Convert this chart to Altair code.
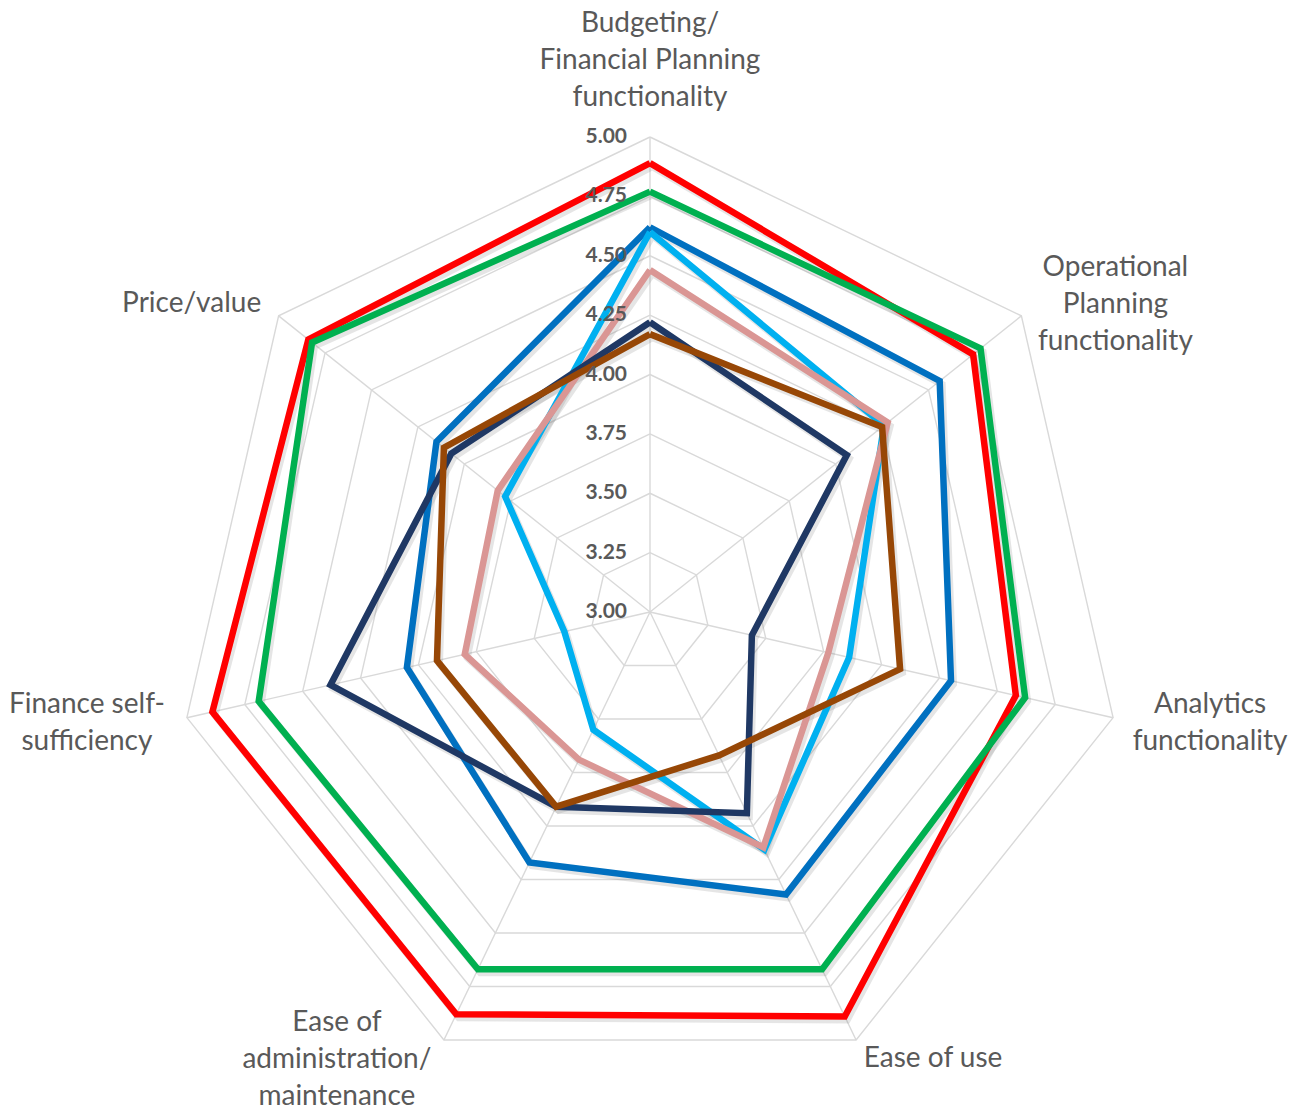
import math
import altair as alt
import pandas as pd

# ---------------- data ----------------
categories = [
    "Budgeting/\nFinancial Planning\nfunctionality",
    "Operational\nPlanning\nfunctionality",
    "Analytics\nfunctionality",
    "Ease of use",
    "Ease of\nadministration/\nmaintenance",
    "Finance self-\nsufficiency",
    "Price/value",
]

series_names = ["Series 1", "Series 2", "Series 3", "Series 4", "Series 5", "Series 6", "Series 7"]

s1_red = [4.89, 4.74, 4.58, 4.89, 4.88, 4.89, 4.84]
s2_green = [4.77, 4.78, 4.62, 4.67, 4.67, 4.69, 4.82]
s3_blue = [4.62, 4.56, 4.30, 4.32, 4.17, 4.05, 4.15]
s4_lightblue = [4.60, 4.26, 3.86, 4.11, 3.55, 3.37, 3.78]
s5_pink = [4.44, 4.28, 3.77, 4.10, 3.69, 3.80, 3.82]
s6_navy = [4.22, 4.06, 3.44, 3.94, 3.91, 4.38, 4.07]
s7_brown = [4.17, 4.25, 4.08, 3.67, 3.91, 3.92, 4.11]

series_values = [s1_red, s2_green, s3_blue, s4_lightblue, s5_pink, s6_navy, s7_brown]

tick_levels = [3.00, 3.25, 3.50, 3.75, 4.00, 4.25, 4.50, 4.75, 5.00]

# ---------------- layout / style ----------------
series_colors = ["#FF0000", "#00B050", "#0070C0", "#00B0F0", "#DA9694", "#1F3864", "#974706"]
W, H = 1304, 1110
CX, CY = 650, 612          # pixel centre of the radar
PX_PER_UNIT = 237.5        # pixels per 1.0 of value
R_MIN = 3.0
R_MAX = 5.0
LINE_H = 37
# label block-centre offsets (pixels) from the outer end of each spoke
label_dx = [0, 94, 97, 77, -107, -100, -87]
label_dy = [-76, -11, 6, 19, 20, 6, -12]

TEXT_COLOR = "#595959"
GRID_COLOR = "#D9D9D9"
FONT = "Lato"
N = len(categories)

xdom = [-CX / PX_PER_UNIT, (W - CX) / PX_PER_UNIT]
ydom = [-(H - CY) / PX_PER_UNIT, CY / PX_PER_UNIT]
xs = alt.Scale(domain=xdom, nice=False, zero=False)
ys = alt.Scale(domain=ydom, nice=False, zero=False)

theta_expr = f"datum.idx * 2 * PI / {N}"


def polar(chart, rfield="value"):
    return chart.transform_calculate(
        theta=theta_expr,
        r=f"datum.{rfield} - {R_MIN}",
    ).transform_calculate(
        x="datum.r * sin(datum.theta)",
        y="datum.r * cos(datum.theta)",
    )


# ---------------- tables ----------------
rows = []
for name, vals in zip(series_names, series_values):
    for k in range(N + 1):
        rows.append({"series": name, "idx": k % N, "order": k, "value": vals[k % N]})
df_series = pd.DataFrame(rows)

ring_rows = []
for lv in tick_levels[1:]:
    for k in range(N + 1):
        ring_rows.append({"level": lv, "idx": k % N, "order": k, "value": lv})
df_rings = pd.DataFrame(ring_rows)

df_spokes = pd.DataFrame({"idx": list(range(N)), "value": [R_MAX] * N})
df_ticks = pd.DataFrame({"idx": [0] * len(tick_levels), "value": tick_levels})
df_labels = pd.DataFrame({
    "idx": list(range(N)),
    "value": [R_MAX] * N,
    "label": categories,
    "nlines": [c.count("\n") + 1 for c in categories],
    "ox": label_dx,
    "oy": label_dy,
})

# ---------------- layers ----------------
rings = polar(alt.Chart(df_rings)).mark_line(
    color=GRID_COLOR, strokeWidth=1.4
).encode(
    x=alt.X("x:Q", scale=xs, axis=None),
    y=alt.Y("y:Q", scale=ys, axis=None),
    detail="level:N",
    order="order:Q",
)

spokes = polar(alt.Chart(df_spokes)).transform_calculate(zero="0").mark_rule(
    color=GRID_COLOR, strokeWidth=1.4
).encode(
    x=alt.X("x:Q", scale=xs, axis=None),
    y=alt.Y("y:Q", scale=ys, axis=None),
    x2="zero:Q",
    y2="zero:Q",
)

layers = [rings, spokes]

# soft shadows under the series lines
for name in series_names:
    shadow = polar(alt.Chart(df_series).transform_filter(alt.datum.series == name)).transform_calculate(
        sx=f"datum.x + {2.5 / PX_PER_UNIT}",
        sy=f"datum.y - {3.5 / PX_PER_UNIT}",
    ).mark_line(
        color="#7F7F7F", opacity=0.2, strokeWidth=7, strokeJoin="miter", strokeMiterLimit=10
    ).encode(
        x=alt.X("sx:Q", scale=xs, axis=None),
        y=alt.Y("sy:Q", scale=ys, axis=None),
        order="order:Q",
    )
    layers.append(shadow)

for name, col in zip(series_names, series_colors):
    line = polar(alt.Chart(df_series).transform_filter(alt.datum.series == name)).mark_line(
        color=col, strokeWidth=6.5, strokeJoin="miter", strokeMiterLimit=10
    ).encode(
        x=alt.X("x:Q", scale=xs, axis=None),
        y=alt.Y("y:Q", scale=ys, axis=None),
        order="order:Q",
    )
    layers.append(line)

ticks = polar(alt.Chart(df_ticks)).mark_text(
    font=FONT, fontSize=21, fontWeight="bold", color=TEXT_COLOR,
    align="right", baseline="middle", dx=-23,
).encode(
    x=alt.X("x:Q", scale=xs, axis=None),
    y=alt.Y("y:Q", scale=ys, axis=None),
    text=alt.Text("value:Q", format=".2f"),
)
layers.append(ticks)

labels = polar(alt.Chart(df_labels)).transform_calculate(
    lx=f"datum.x + datum.ox / {PX_PER_UNIT}",
    ly=f"datum.y - (datum.oy - (datum.nlines - 1) * {LINE_H / 2}) / {PX_PER_UNIT}",
).mark_text(
    font=FONT, fontSize=28, color=TEXT_COLOR, align="center", baseline="middle",
    lineBreak="\n", lineHeight=LINE_H,
).encode(
    x=alt.X("lx:Q", scale=xs, axis=None),
    y=alt.Y("ly:Q", scale=ys, axis=None),
    text="label:N",
)
layers.append(labels)

chart = alt.layer(*layers).properties(
    width=W, height=H,
    autosize=alt.AutoSizeParams(type="none"),
    padding=0,
    background="white",
).configure_view(stroke=None)

chart.save("out.html", embed_options={"renderer": "svg", "actions": False})
